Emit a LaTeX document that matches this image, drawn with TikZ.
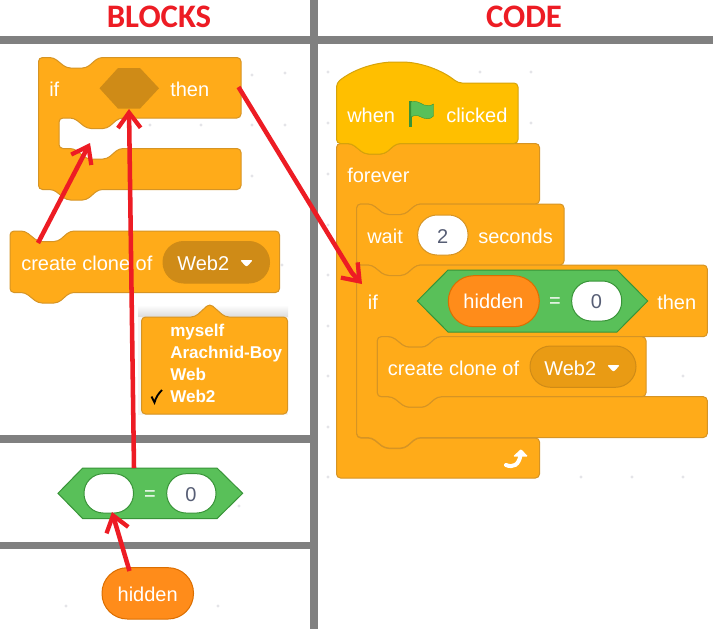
\documentclass[tikz,border=0pt]{standalone}
\usepackage{fontspec}
\setmainfont{Liberation Sans}
\newfontfamily\titlefont{Carlito}
\usetikzlibrary{arrows.meta}
\definecolor{panelline}{RGB}{128,128,128}
\definecolor{ctl}{RGB}{255,171,25}
\definecolor{ctlb}{RGB}{214,148,36}
\definecolor{ctldark}{RGB}{207,139,23}
\definecolor{evt}{RGB}{255,191,0}
\definecolor{evtb}{RGB}{214,163,10}
\definecolor{opg}{RGB}{89,192,89}
\definecolor{opgb}{RGB}{56,148,56}
\definecolor{varo}{RGB}{255,140,26}
\definecolor{varob}{RGB}{219,110,0}
\definecolor{arrowred}{RGB}{237,28,36}
\definecolor{numtxt}{RGB}{87,94,117}
\definecolor{griddot}{RGB}{228,228,232}
\definecolor{pillcode}{RGB}{233,155,20}
% top edge with notch, running right from the block's left edge
\newcommand{\notchR}[2]{-- (#1+15,#2) -- (#1+28,#2+10.5) -- (#1+48,#2+10.5) -- (#1+60,#2)}
% bottom edge with tab, running left towards the block's left edge
\newcommand{\tabL}[2]{-- (#1+60,#2) -- (#1+48,#2+10.5) -- (#1+28,#2+10.5) -- (#1+15,#2)}
% stack block: left, top, right, bottom
\newcommand{\stackblock}[4]{\draw[block] (#1,#2) \notchR{#1}{#2} -- (#3,#2) -- (#3,#4) \tabL{#1}{#4} -- (#1,#4) -- cycle;}
% C block: left, top, right, head bottom, inner left, mouth bottom, bottom
\newcommand{\cblock}[7]{\draw[block] (#1,#2) \notchR{#1}{#2} -- (#3,#2) -- (#3,#4) \tabL{#5}{#4} -- (#5,#4) -- (#5,#6) \notchR{#5}{#6} -- (#3,#6) -- (#3,#7) \tabL{#1}{#7} -- (#1,#7) -- cycle;}
\newcommand{\hexpath}[6]{(#1,#5) -- (#2,#4) -- (#3,#4) -- (#6,#5) -- (#3,#5+#5-#4) -- (#2,#5+#5-#4) -- cycle}
\newcommand{\griddots}[1]{\foreach \gx/\gy in {#1} {\fill[griddot] (\gx,\gy) circle (1.6);}}
\tikzset{
  block/.style={draw=ctlb,fill=ctl,line width=0.75pt,rounded corners=3},
  lbl/.style={anchor=base west,inner sep=0,yshift=-0.6pt,text=white,font=\fontsize{15}{18}\selectfont},
  clbl/.style={anchor=base,inner sep=0,yshift=-0.6pt,text=white,font=\fontsize{15}{18}\selectfont},
  numlbl/.style={anchor=base,inner sep=0,yshift=-0.6pt,text=numtxt,font=\fontsize{15}{18}\selectfont},
  menulbl/.style={anchor=base west,inner sep=0,text=white,font=\fontsize{12.8}{15}\selectfont\bfseries},
  title/.style={anchor=base,inner sep=0,text=arrowred,font=\fontsize{24.6}{28}\selectfont\titlefont\bfseries},
  rule/.style={fill=panelline,draw=none},
  redarrow/.style={draw=arrowred,line width=3.4pt,-{Straight Barb[length=11.5pt,width=17pt,line width=3.2pt]}},
  pill/.style={rounded corners=14.5pt,line width=0.75pt},
}
\begin{document}
\begin{tikzpicture}[x=0.75pt,y=-0.75pt]
\useasboundingbox (0,0) rectangle (713,629);
\fill[white] (0,0) rectangle (713,629);
% background grid dots
\griddots{252/75,285/73,150/125,201/125,252/125,285/125,252/176,282/265,239/506,66/606,218/606,328/72,480/72,531/72,328/123,531/123,328/174,328/225,328/275,328/326,328/376,328/427,683/376,328/477,581/477,632/477,683/477}
% panel rules
\fill[rule] (0,36) rectangle (713,44);
\fill[rule] (310,0) rectangle (318,629);
\fill[rule] (0,435) rectangle (310,443);
\fill[rule] (0,541.5) rectangle (318,549);
\node[title] (tblocks) at (159,27) {BLOCKS};
\node[title] (tcode) at (524,27) {CODE};
% --- blocks panel: if
\cblock{38.5}{57.5}{241}{118}{59}{148.5}{189.5}
\fill[ctldark] \hexpath{99.5}{118}{140}{68}{88.3}{159};
\node[lbl] (bif) at (49,95.7) {if};
\node[lbl] (bthen) at (170,95.7) {then};
% --- blocks panel: create clone
\stackblock{10}{231}{279.5}{292.5}
\draw[fill=ctldark,draw=ctldark,pill,rounded corners=15.5pt] (163,241.5) rectangle (269.5,283);
\node[lbl] (bcc) at (21,270) {create clone of};
\node[lbl] (bweb) at (177,270) {Web2};
\fill[white,rounded corners=1.5] (240,260) -- (253,260) -- (246.5,267) -- cycle;
% --- dropdown
\shade[top color=white,bottom color=black!14] (138,305) rectangle (288,317);
\fill[black!4] (138,317) rectangle (288,415);
\draw[block] (141.5,317) -- (195,317) -- (209.7,303.5) -- (225,317) -- (287.5,317) -- (287.5,414) -- (141.5,414) -- cycle;
\node[menulbl] (m1) at (170,336) {myself};
\node[menulbl] (m2) at (170,358) {Arachnid-Boy};
\node[menulbl] (m3) at (170,380) {Web};
\node[menulbl] (m4) at (170,402) {Web2};
\draw[black,line width=1.4pt] (151.5,396.5) -- (154.5,402.5) .. controls (156,397) and (158.5,393.5) .. (162,390);
% --- operator
\draw[draw=opgb,fill=opg,line width=0.75pt] \hexpath{58}{82.7}{217}{468}{493.3}{242.7};
\draw[fill=white,draw=opgb,pill] (84,473.7) rectangle (133.5,513);
\draw[fill=white,draw=opgb,pill] (166.7,473.7) rectangle (216,513);
\node[clbl] at (150,500) {=};
\node[numlbl] (bzero) at (191,500.5) {0};
% --- variable
\draw[fill=varo,draw=varob,pill,rounded corners=19pt] (102,567.7) rectangle (193.5,619);
\node[clbl] (bhid) at (147.7,600.5) {hidden};
% --- code panel
\draw[block] (336.5,143.5) \notchR{336.5}{143.5} -- (539.5,143.5) -- (539.5,204) \tabL{356.7}{204} -- (356.7,204) -- (356.7,438) \notchR{356.7}{438} -- (539.5,438) -- (539.5,478) -- (336.5,478) -- cycle;
\node[lbl] (cforever) at (347,181.7) {forever};
\stackblock{356.7}{204}{564}{265}
\draw[fill=white,draw=ctlb,pill] (417.7,215) rectangle (468,255);
\node[lbl] (cwait) at (367,242.7) {wait};
\node[numlbl] (ctwo) at (442.7,242.7) {2};
\node[lbl] (csec) at (478,242.7) {seconds};
\cblock{356.7}{265}{707.3}{336.7}{377.3}{396.7}{437.5}
\draw[draw=opgb,fill=opg,line width=0.75pt] \hexpath{417.3}{448}{617}{270}{301}{647.7};
\draw[fill=varo,draw=varob,pill,rounded corners=19pt] (448.3,275.7) rectangle (539.3,326.7);
\draw[fill=white,draw=opgb,pill] (571.7,281) rectangle (621.7,321);
\node[lbl] (cif) at (367.7,309) {if};
\node[clbl] (chid) at (493.5,308) {hidden};
\node[clbl] at (555,307) {=};
\node[numlbl] (czero) at (596.5,308) {0};
\node[lbl] (cthen) at (657,309) {then};
\stackblock{377.3}{336.7}{646}{396.7}
\draw[fill=pillcode,draw=ctldark,pill,rounded corners=15.5pt] (530,346) rectangle (636,387.3);
\node[lbl] (ccc) at (387.7,375) {create clone of};
\node[lbl] (cweb) at (544,375) {Web2};
\fill[white,rounded corners=1.5] (607,365) -- (620,365) -- (613.5,372) -- cycle;
% hat
\draw[draw=evtb,fill=evt,line width=0.75pt,rounded corners=3] (336.5,83) .. controls (355,68) and (378,62) .. (398,62) .. controls (420,62) and (442,70) .. (458,83) -- (518,83) -- (518,143.5) \tabL{336.5}{143.5} -- (336.5,143.5) -- cycle;
\node[lbl] (cwhen) at (347,121.7) {when};
\node[lbl] (cclick) at (446,121.7) {clicked};
% flag
\fill[opgb] (409,101) rectangle (411.5,127);
\fill[opg,draw=opgb,line width=0.3pt] (411,102) .. controls (416,100) and (420,103) .. (424,105) .. controls (427,106) and (431,106) .. (433.5,104) -- (433.5,116) .. controls (430,120) and (425,119) .. (421,117) .. controls (418,115) and (414,115) .. (411,117) -- cycle;
% loop arrow
\draw[white,line width=3pt,line cap=round] (506,465) .. controls (513,468) and (519,465) .. (520.5,455);
\fill[white,rounded corners=0.8] (513,456.5) -- (521,449) -- (528,456.5) -- cycle;
% --- annotation arrows
\coordinate (a1s) at (38,243);
\coordinate (a1e) at (90,143);
\coordinate (a2s) at (134,468);
\coordinate (a2e) at (129,109);
\coordinate (a3s) at (238.5,87);
\coordinate (a3k) at (352,273);
\coordinate (a3e) at (362,284);
\coordinate (a4s) at (129.5,571);
\coordinate (a4e) at (112,512);
\draw[redarrow] (a1s) -- (a1e);
\draw[redarrow] (a2s) -- (a2e);
\draw[redarrow] (a3s) -- (a3k) -- (a3e);
\draw[redarrow] (a4s) -- (a4e);
\end{tikzpicture}
\end{document}
